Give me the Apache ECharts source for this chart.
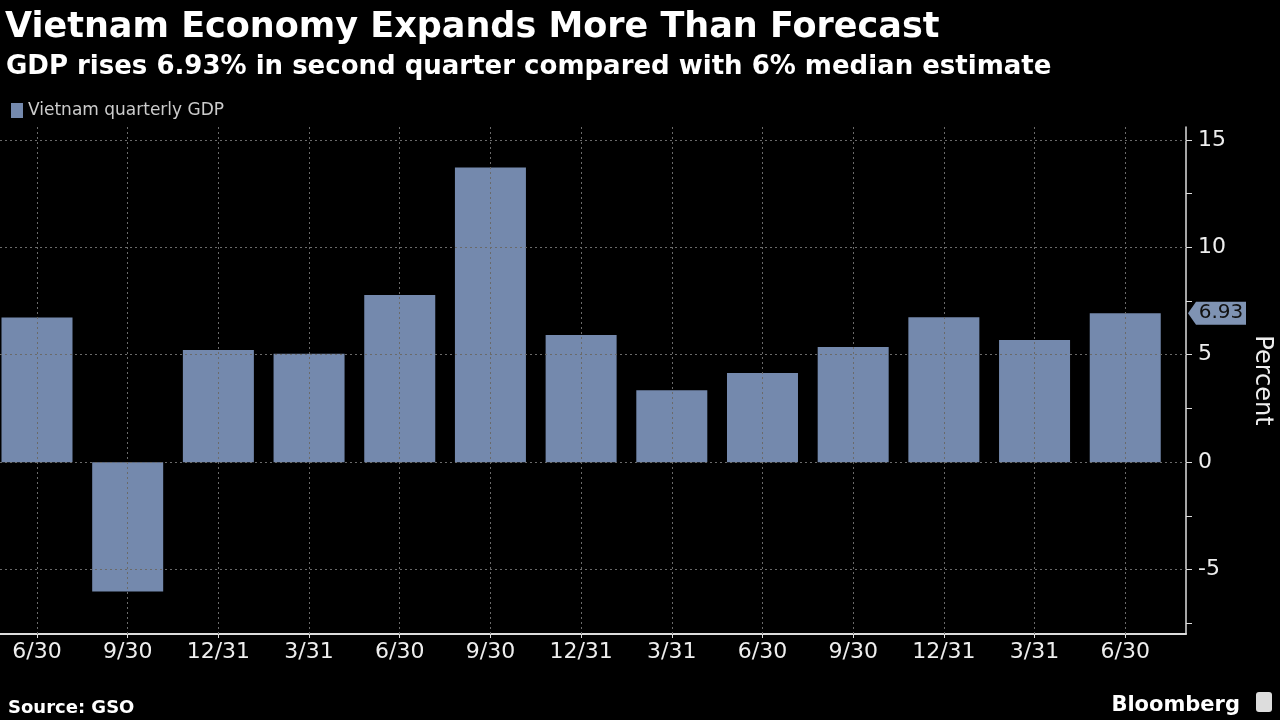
<!DOCTYPE html>
<html><head><meta charset="utf-8">
<script src="https://cdn.jsdelivr.net/npm/echarts@6/dist/echarts.min.js"></script>
<style>html,body{margin:0;background:#000}#c{width:1280px;height:720px}</style>
</head><body><div id="c"></div>
<script>
const categories = ['6/30','9/30','12/31','3/31','6/30','9/30','12/31','3/31','6/30','9/30','12/31','3/31','6/30'];
const gdpValues = [6.73,-6.02,5.22,5.05,7.78,13.71,5.92,3.35,4.15,5.36,6.75,5.68,6.93];
const yLabelValues = [-5,0,5,10,15];
const yTickValues = [-7.5,-5,-2.5,0,2.5,5,7.5,10,12.5,15];
const seriesName = 'Vietnam quarterly GDP';

const FONT = 'DejaVu Sans';
const X_MIN = -0.408, X_MAX = 12.67;
const idx = categories.map((c,i)=>i);
const latest = gdpValues[gdpValues.length-1];

const chart = echarts.init(document.getElementById('c'));
chart.setOption({
  backgroundColor:'#000',
  animation:false,
  textStyle:{fontFamily:FONT},
  title:[
    {text:'Vietnam Economy Expands More Than Forecast',left:0,top:5,
     textStyle:{color:'#fff',fontSize:35,fontWeight:'bold',fontFamily:FONT}},
    {text:'GDP rises 6.93% in second quarter compared with 6% median estimate',left:1,top:49,
     textStyle:{color:'#fff',fontSize:26,fontWeight:'bold',fontFamily:FONT}},
    {text:'Source: GSO',left:3,top:694,
     textStyle:{color:'#fff',fontSize:18,fontWeight:'bold',fontFamily:FONT}},
    {text:'Bloomberg',right:35,top:690,
     textStyle:{color:'#fff',fontSize:21,fontWeight:'bold',fontFamily:FONT}}
  ],
  graphic:[
    {type:'rect',left:1256,top:692,shape:{width:16,height:20,r:3},style:{fill:'#ddd'}}
  ],
  legend:{
    data:[seriesName],left:6,top:97,icon:'rect',itemWidth:12,itemHeight:15,itemGap:6,
    textStyle:{color:'#ccc',fontSize:17,fontFamily:FONT}
  },
  grid:{left:0,right:94,top:127,bottom:86,containLabel:false,outerBoundsMode:'none'},
  xAxis:{
    type:'value',min:X_MIN,max:X_MAX,
    axisLine:{show:true,onZero:false,lineStyle:{color:'#ddd',width:2}},
    axisTick:{show:true,customValues:idx,length:4,lineStyle:{color:'#ddd'}},
    axisLabel:{customValues:idx,formatter:v=>categories[Math.round(v)],color:'#eee',fontSize:22,margin:7,fontFamily:FONT},
    splitLine:{show:false}
  },
  yAxis:{
    type:'value',position:'right',min:-8,max:15.6,
    axisLine:{show:true,onZero:false,lineStyle:{color:'#ddd',width:1.5}},
    axisTick:{show:true,customValues:yTickValues,length:6,lineStyle:{color:'#ddd'}},
    axisLabel:{customValues:yLabelValues,color:'#eee',fontSize:22,margin:12,fontFamily:FONT},
    splitLine:{show:false},
    name:'Percent',nameLocation:'middle',nameRotate:-90,nameGap:64,
    nameTextStyle:{color:'#eee',fontSize:24,fontFamily:FONT}
  },
  series:[
    {
      name:'grid',type:'line',data:[],z:1,silent:true,
      markLine:{silent:true,symbol:'none',animation:false,label:{show:false},
        lineStyle:{color:'#6a6a6a',type:[2,3],width:1},
        data:idx.map(i=>({xAxis:i})).concat(yLabelValues.map(v=>({yAxis:v})))}
    },
    {
      name:seriesName,type:'bar',z:3,barWidth:71,
      data:gdpValues.map((v,i)=>[i,v]),
      itemStyle:{color:'#7489ad'},
      markPoint:{
        silent:true,
        data:[{coord:[X_MAX,latest],value:latest}],
        symbol:'path://M0,12 L8,0 L58,0 L58,24 L8,24 Z',
        symbolSize:[58,23],symbolOffset:[31,0],
        itemStyle:{color:'#7f93b3'},
        label:{show:true,formatter:p=>p.value.toFixed(2),color:'#111',fontSize:20,offset:[4,0],fontFamily:FONT}
      }
    }
  ]
});
</script></body></html>
